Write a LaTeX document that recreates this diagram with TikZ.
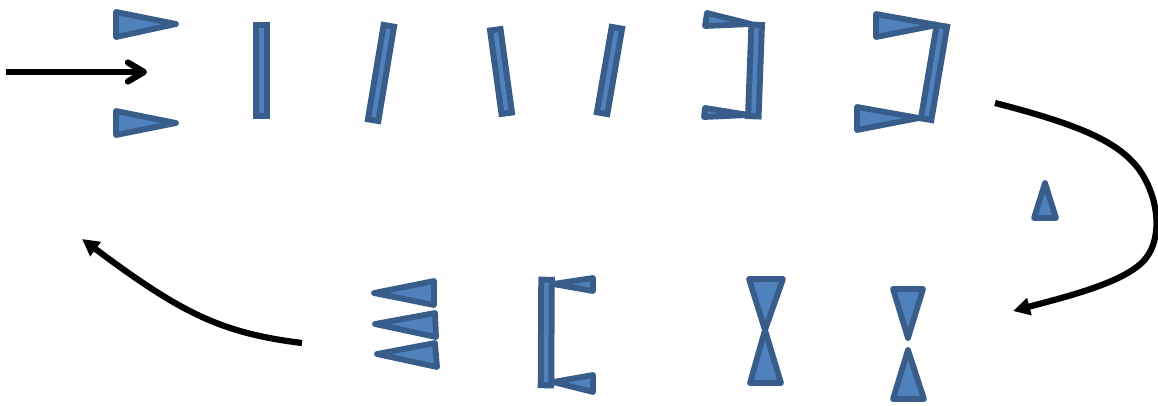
\documentclass[tikz,border=0pt]{standalone}
\usetikzlibrary{arrows.meta}
\definecolor{shpfill}{HTML}{4F81BD}
\definecolor{shpline}{HTML}{385D8A}
\begin{document}
\begin{tikzpicture}[x=1pt,y=-1pt,
  tri/.style={fill=shpfill,draw=shpline,line width=5.8pt,line join=round},
  bar/.style={draw=shpline,double=shpfill,line width=6pt,double distance=4.5pt,line cap=rect},
  conn/.style={draw=black,line width=6.2pt}]
\useasboundingbox (0,0) rectangle (1158,405);

% --- incoming arrow
\coordinate (inA) at (6,72);
\coordinate (inB) at (147,72);
\draw[conn,-{Straight Barb[length=16pt,width=19pt,round]}] (inA) -- (inB);

% --- top row
\draw[tri] (116,12) -- (116,37) -- (176,24) -- cycle;
\draw[tri] (116,111) -- (116,135) -- (176,123) -- cycle;
\draw[bar] (261.5,30) -- (261.5,111);
\draw[bar] (388,31) -- (374,115);
\draw[bar] (496,35) -- (506,108);
\draw[bar] (616,33) -- (603,108);

% bracket 1
\draw[tri] (707,13) -- (705,26) -- (751,24) -- cycle;
\draw[tri] (705,108) -- (704,117) -- (749,115) -- cycle;
\draw[bar] (756.5,30) -- (753.5,111);

% bracket 2
\draw[tri] (876,14) -- (876,37) -- (937,25) -- cycle;
\draw[tri] (857,107) -- (857,130) -- (919,118) -- cycle;
\draw[bar] (941,31) -- (927,114);

% small triangle
\draw[tri] (1045,183) -- (1034,218) -- (1056,218) -- cycle;

% --- curved arrow right
\coordinate (rA) at (995,103);
\coordinate (rB) at (1013,311);
\draw[conn,-{Triangle[length=17pt,width=17pt]}] (rA)
  .. controls (1085,126) and (1118,143) .. (1138,168)
  .. controls (1160,198) and (1162,238) .. (1146,258)
  .. controls (1128,282) and (1065,297) .. (rB);

% --- bottom row
\draw[tri] (783,279) -- (749,279) -- (765,330) -- cycle;
\draw[tri] (765,330) -- (750,383) -- (781,383) -- cycle;

\draw[tri] (893,289) -- (923,289) -- (908,338) -- cycle;
\draw[tri] (908,350) -- (893,399) -- (924,399) -- cycle;

% bracket open right
\draw[tri] (553,284) -- (593,278) -- (593,291) -- cycle;
\draw[tri] (553,382) -- (593,375) -- (593,392) -- cycle;
\draw[bar] (546.5,285) -- (546,380);

% stacked triangles
\draw[tri] (374,293) -- (434,281) -- (434,305) -- cycle;
\draw[tri] (375,324) -- (435,313) -- (436,337) -- cycle;
\draw[tri] (377,354) -- (435,343) -- (437,367) -- cycle;

% --- curved arrow left
\coordinate (lA) at (302,343);
\coordinate (lB) at (82,239);
\draw[conn,-{Triangle[length=17pt,width=17pt]}] (lA)
  .. controls (220,333) and (180,312) .. (lB);
\end{tikzpicture}
\end{document}
